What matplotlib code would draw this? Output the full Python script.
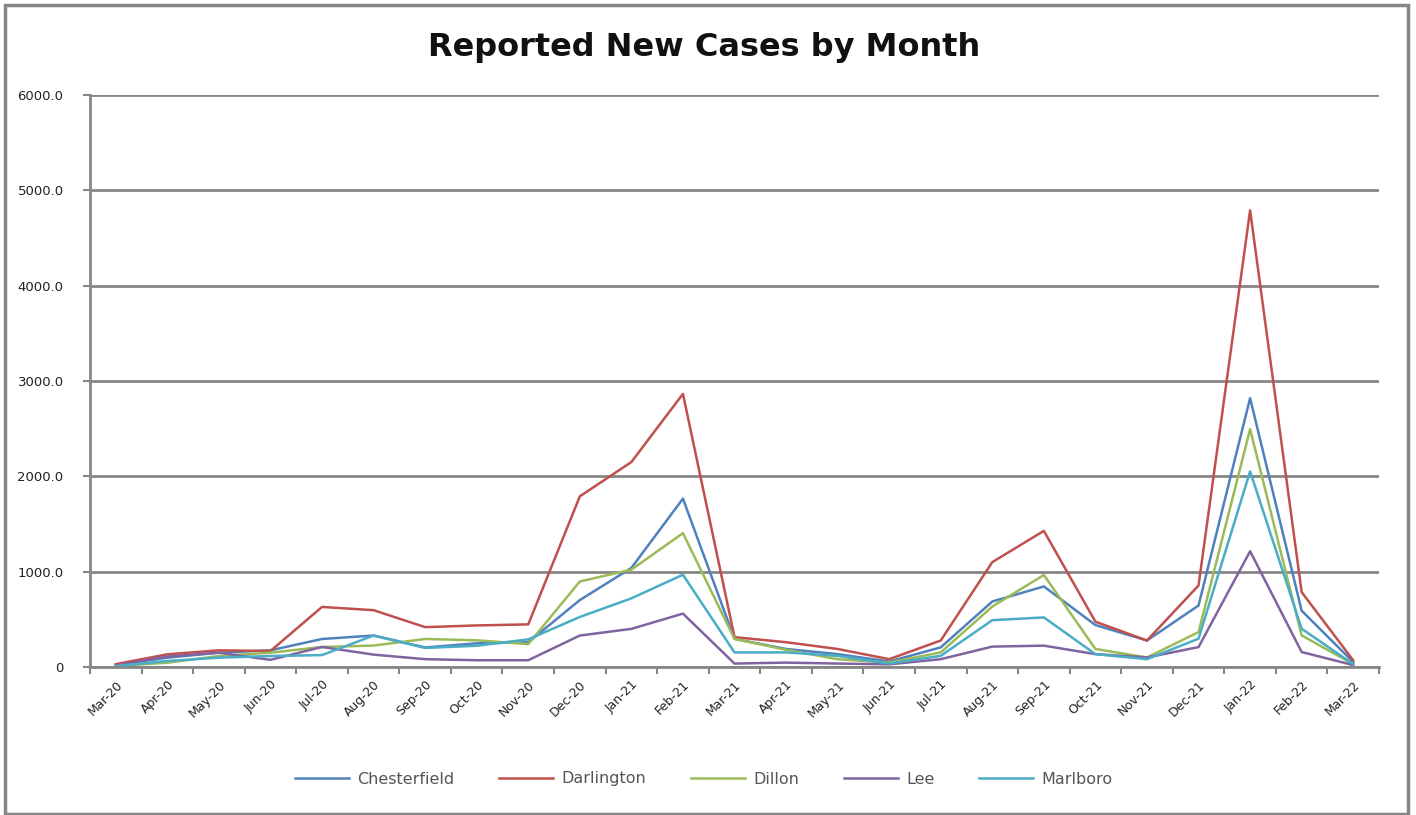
import matplotlib.pyplot as plt
from matplotlib.patches import Rectangle

# Monthly new cases, Mar-20 .. Mar-22
months = ["Mar-20", "Apr-20", "May-20", "Jun-20", "Jul-20", "Aug-20", "Sep-20",
          "Oct-20", "Nov-20", "Dec-20", "Jan-21", "Feb-21", "Mar-21", "Apr-21",
          "May-21", "Jun-21", "Jul-21", "Aug-21", "Sep-21", "Oct-21", "Nov-21",
          "Dec-21", "Jan-22", "Feb-22", "Mar-22"]

chesterfield = [20, 98, 150, 175, 294, 330, 205, 248, 259, 702, 1039, 1766, 295,
                189, 135, 57, 206, 687, 845, 440, 278, 645, 2820, 590, 52]
darlington = [30, 133, 175, 168, 630, 596, 418, 436, 447, 1790, 2150, 2865, 313,
              260, 189, 82, 278, 1100, 1428, 475, 278, 855, 4790, 785, 70]
dillon = [10, 45, 115, 150, 210, 225, 294, 280, 240, 897, 1021, 1404, 295,
          180, 82, 46, 153, 634, 965, 189, 100, 366, 2495, 331, 30]
lee = [15, 110, 150, 75, 210, 130, 82, 71, 71, 330, 400, 560, 36,
       46, 36, 28, 82, 214, 224, 135, 100, 209, 1214, 157, 20]
marlboro = [10, 63, 98, 115, 125, 330, 200, 223, 290, 525, 720, 968, 153,
            153, 117, 36, 117, 491, 520, 135, 82, 297, 2052, 401, 30]

series = [("Chesterfield", chesterfield, "#4F81BD"),
          ("Darlington", darlington, "#C0504D"),
          ("Dillon", dillon, "#9BBB59"),
          ("Lee", lee, "#8064A2"),
          ("Marlboro", marlboro, "#4BACC6")]

grid_col = "#868686"

fig = plt.figure(figsize=(14.16, 8.15), dpi=100)
ax = fig.add_axes([90 / 1416, 1 - 667 / 815, 1289 / 1416, 572 / 815])

x = list(range(len(months)))
for name, vals, col in series:
    ax.plot(x, vals, color=col, lw=1.8, label=name)

ax.set_xlim(-0.5, len(months) - 0.5)
ax.set_ylim(0, 6000)

yt = [0, 1000, 2000, 3000, 4000, 5000, 6000]
ax.set_yticks(yt)
ax.set_yticklabels(["0"] + [f"{v:.1f}" for v in yt[1:]], fontsize=9.5,
                   color="#222222")
ax.yaxis.grid(True, color=grid_col, lw=2)
ax.set_axisbelow(True)

ax.set_xticks(x)
ax.set_xticklabels(months, rotation=45, ha="right", rotation_mode="anchor",
                   fontsize=9, color="#222222")
ax.set_xticks([i - 0.5 for i in range(len(months) + 1)], minor=True)
ax.tick_params(axis="x", which="major", length=0, pad=8)
ax.tick_params(axis="x", which="minor", length=5, width=1.5, color=grid_col)
ax.tick_params(axis="y", length=5, width=1.5, color=grid_col, pad=14)

for s in ["top", "right"]:
    ax.spines[s].set_visible(False)
for s in ["left", "bottom"]:
    ax.spines[s].set_color(grid_col)
    ax.spines[s].set_linewidth(2)

fig.text(0.497, 0.942, "Reported New Cases by Month", ha="center", va="center",
         fontsize=23, fontweight="bold", color="#111111")

fig.legend(loc="center", bbox_to_anchor=(0.497, 1 - 779 / 815), ncol=5,
           frameon=False, fontsize=11.5, handlelength=3.4, columnspacing=2.8,
           handletextpad=0.5, labelcolor="#555555")

fig.patches.append(Rectangle((5 / 1416, 1 / 815), 1403 / 1416, 809 / 815,
                             transform=fig.transFigure, fill=False,
                             edgecolor=grid_col, lw=2.5))

plt.savefig("out.png", dpi=100, facecolor="white")
plt.close()
